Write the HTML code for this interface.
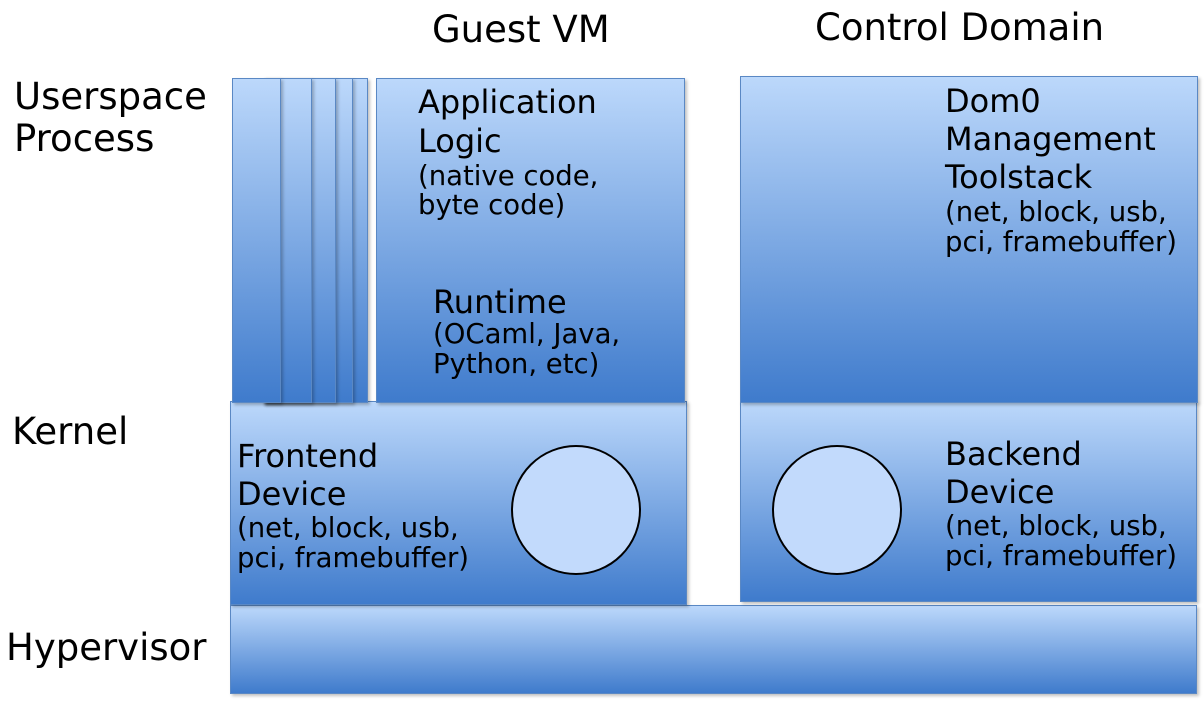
<!DOCTYPE html>
<html><head><style>
body{margin:0;width:1204px;height:706px;background:#fff;position:relative;overflow:hidden;font-family:"DejaVu Sans","Liberation Sans",sans-serif;color:#000}
.b{position:absolute;box-sizing:border-box;border:1.5px solid #5a88c4;background:linear-gradient(#bcd8fb,#3f7bcc);box-shadow:2px 2px 3px rgba(0,0,0,.25)}
.t{position:absolute;white-space:nowrap;line-height:1.2}
.H{font-size:37px}.L{font-size:32px}.S{font-size:27.5px}
.c{position:absolute;width:130px;height:130px;border-radius:50%;border:2px solid #000;background:#c2dafc;box-sizing:border-box}
</style></head><body>
<div class="t" style="left:432px;top:8px;font-size:37px">Guest VM</div>
<div class="t" style="left:815px;top:6px;font-size:37px">Control Domain</div>
<div class="t H" style="left:14px;top:76px;line-height:42px">Userspace<br>Process</div>
<div class="t H" style="left:12px;top:410px">Kernel</div>
<div class="t H" style="left:6px;top:626px">Hypervisor</div>

<div class="b" style="left:230px;top:605px;width:967px;height:89px"></div>
<div class="b" style="left:230px;top:401px;width:457px;height:204px"></div>
<div class="b" style="left:740px;top:401px;width:457px;height:201px"></div>

<div class="b" style="left:263px;top:78px;width:105px;height:325px"></div>
<div class="b" style="left:263px;top:78px;width:90px;height:325px"></div>
<div class="b" style="left:263px;top:78px;width:73px;height:325px"></div>
<div class="b" style="left:263px;top:78px;width:49px;height:325px"></div>
<div class="b" style="left:232px;top:78px;width:49px;height:325px"></div>
<div class="b" style="left:376px;top:78px;width:309px;height:325px"></div>
<div class="b" style="left:740px;top:76px;width:458px;height:327px"></div>

<div class="t L" style="left:418px;top:83px;line-height:39px">Application<br>Logic</div>
<div class="t S" style="left:418px;top:162px;line-height:29px">(native code,<br>byte code)</div>
<div class="t L" style="left:433px;top:283px">Runtime</div>
<div class="t S" style="left:433px;top:319px;line-height:30px">(OCaml, Java,<br>Python, etc)</div>

<div class="t L" style="left:945px;top:82px;line-height:38px">Dom0<br>Management<br>Toolstack</div>
<div class="t S" style="left:945px;top:197px;line-height:30px">(net, block, usb,<br>pci, framebuffer)</div>

<div class="t L" style="left:237px;top:437px;line-height:38px">Frontend<br>Device</div>
<div class="t S" style="left:237px;top:513px;line-height:30px">(net, block, usb,<br>pci, framebuffer)</div>
<div class="t L" style="left:945px;top:435px;line-height:38px">Backend<br>Device</div>
<div class="t S" style="left:945px;top:511px;line-height:30px">(net, block, usb,<br>pci, framebuffer)</div>

<div class="c" style="left:511px;top:445px"></div>
<div class="c" style="left:772px;top:445px"></div>
</body></html>
